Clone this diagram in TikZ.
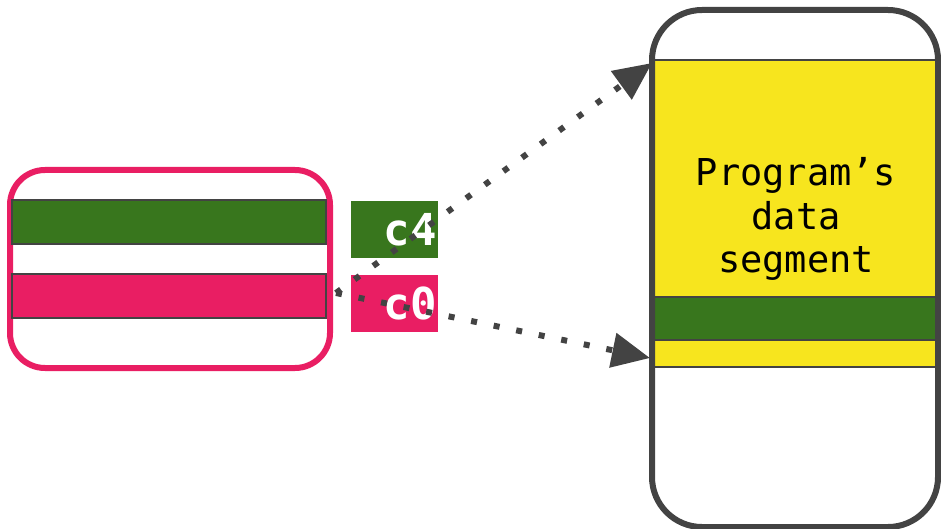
\documentclass[tikz,border=0pt]{standalone}
\usepackage{fontspec}
\setmonofont{DejaVu Sans Mono}
\usetikzlibrary{arrows.meta,positioning}
\definecolor{regpink}{HTML}{E91E63}
\definecolor{reggreen}{HTML}{38761D}
\definecolor{segyellow}{HTML}{F7E51E}
\definecolor{linegray}{HTML}{434343}

\begin{document}
\begin{tikzpicture}[x=1pt,y=-1pt,
  bar/.style={draw=linegray,line width=1.2pt,minimum width=314pt,minimum height=44pt,inner sep=0pt},
  tag/.style={minimum height=57pt,text width=84pt,align=right,inner sep=1.5pt,text=white,font=\ttfamily\bfseries\fontsize{44}{44}\selectfont},
  ptr/.style={draw=linegray,line width=6pt,dash pattern=on 6pt off 17pt,-{Triangle[length=38pt,width=34pt]}}]
\useasboundingbox (0,0) rectangle (941,529);
\node[draw=regpink,line width=6pt,rounded corners=35pt,minimum width=320pt,minimum height=198pt] (reg) at (170,269) {};
\node[bar,fill=reggreen] (greenbar) at (169,222) {};
\node[bar,fill=regpink] (pinkbar) at (169,296) {};
\node[tag,fill=reggreen] (c4) at (394.5,229.5) {c4};
\node[tag,fill=regpink] (c0) at (394.5,303.5) {c0};
\node[fill=segyellow,draw=linegray,line width=1.2pt,minimum width=284pt,minimum height=307pt,inner sep=0pt] (dataseg) at (796,213.5) {};
\node[fill=reggreen,draw=linegray,line width=1.2pt,minimum width=284pt,minimum height=43pt,inner sep=0pt] (band) at (796,318.5) {};
\node[align=center,font=\ttfamily\fontsize{37}{43.5}\selectfont] (segtext) at (796,219) {Program’s\\data\\segment};
\node[draw=linegray,line width=6pt,rounded corners=50pt,minimum width=286pt,minimum height=517pt] (mem) at (795,268.5) {};
\coordinate (src) at (336,293);
\coordinate (top) at (652,63);
\coordinate (low) at (650,358);
\draw[ptr] (src) -- (top);
\draw[ptr] (src) -- (low);
\end{tikzpicture}
\end{document}
